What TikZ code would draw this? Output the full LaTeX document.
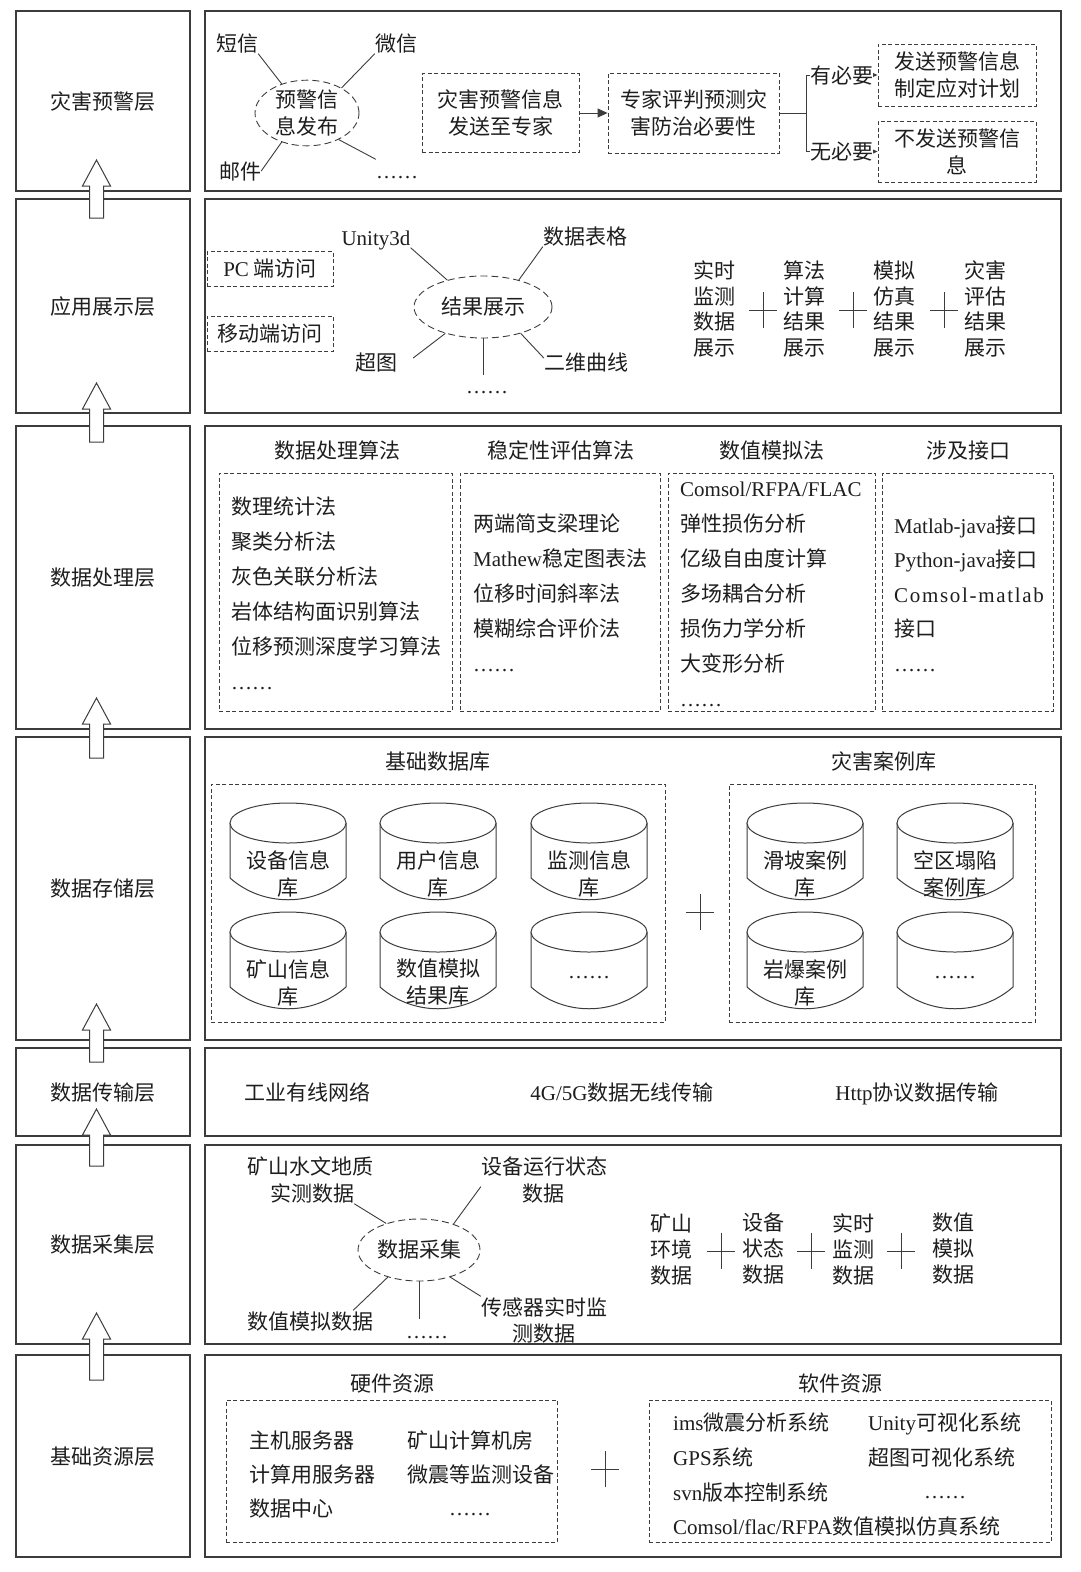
\documentclass[tikz,border=0pt]{standalone}
\usepackage{fontspec}
\setmainfont{Noto Sans CJK SC}
\newfontfamily\latf{Liberation Serif}
\newcommand\latn[1]{{\latf #1}}
\usetikzlibrary{shapes.geometric,arrows.meta}
\definecolor{ln}{HTML}{3C3C3C}
\definecolor{tx}{HTML}{1E1E1E}
\newcommand\layerarrow[2]{%
  \draw[draw=ln, line width=1pt, fill=white] (89.5,#2) -- (89.5,{#1+26}) -- (82.5,{#1+26}) -- (96.5,#1) -- (110.5,{#1+26}) -- (103.5,{#1+26}) -- (103.5,#2) -- cycle;}
\newcommand\plussign[2]{%
  \draw[draw=ln, line width=1pt] ({#1-14},#2) -- ({#1+14},#2) (#1,{#2-18}) -- (#1,{#2+18});}
\newcommand\dbcyl[5]{%
  \draw[draw=ln, line width=1pt, fill=white] ({#1-58},{#2+20}) -- ({#1-58},{#2+75}) .. controls ({#1-25},{#2+104}) and ({#1+25},{#2+104}) .. ({#1+58},{#2+75}) -- ({#1+58},{#2+20});
  \draw[draw=ln, line width=1pt, fill=white] (#1,{#2+20}) ellipse [x radius=58, y radius=20];
  \node[align=center, inner sep=0, text=tx] (#3) at (#1,{#2+#5}) {#4};}
\begin{document}
\begin{tikzpicture}[x=1pt,y=-1pt, font=\fontsize{21}{27}\selectfont,
  lbox/.style={draw=ln, line width=1.3pt, minimum width=174pt, inner sep=0, text=tx, text height=18.5pt, text depth=2.5pt},
  rbox/.style={draw=ln, line width=1.3pt, minimum width=856pt, inner sep=0},
  dbox/.style={draw=ln, line width=0.9pt, dash pattern=on 4pt off 2.5pt, inner sep=0, align=center, text=tx},
  dell/.style={draw=ln, line width=0.9pt, dash pattern=on 7pt off 4pt, ellipse, inner sep=0, align=center, text=tx},
  txt/.style={inner sep=0, text=tx, text height=18.5pt, text depth=2.5pt},
  conn/.style={draw=ln, line width=0.9pt},
  col/.style={align=center, inner sep=0, text=tx, font=\fontsize{21}{25.7}\selectfont},
  col6/.style={align=center, inner sep=0, text=tx, font=\fontsize{21}{26}\selectfont}]
\fill[white] (0,0) rectangle (1080,1572);
\useasboundingbox (0,0) rectangle (1080,1572);

% ---------- layer frames ----------
\node[lbox, minimum height=180pt] (L1) at (103,101) {灾害预警层};
\node[rbox, minimum height=180pt] (R1) at (633,101) {};
\node[lbox, minimum height=214pt] (L2) at (103,306) {应用展示层};
\node[rbox, minimum height=214pt] (R2) at (633,306) {};
\node[lbox, minimum height=303pt] (L3) at (103,577.5) {数据处理层};
\node[rbox, minimum height=303pt] (R3) at (633,577.5) {};
\node[lbox, minimum height=303pt] (L4) at (103,888.5) {数据存储层};
\node[rbox, minimum height=303pt] (R4) at (633,888.5) {};
\node[lbox, minimum height=88pt] (L5) at (103,1092) {数据传输层};
\node[rbox, minimum height=88pt] (R5) at (633,1092) {};
\node[lbox, minimum height=199pt] (L6) at (103,1244.5) {数据采集层};
\node[rbox, minimum height=199pt] (R6) at (633,1244.5) {};
\node[lbox, minimum height=202pt] (L7) at (103,1456) {基础资源层};
\node[rbox, minimum height=202pt] (R7) at (633,1456) {};

\layerarrow{160}{218}
\layerarrow{383}{442}
\layerarrow{698}{758}
\layerarrow{1004}{1062}
\layerarrow{1109}{1166}
\layerarrow{1313}{1380}

% ---------- layer 1 ----------
\node[txt] (sms) at (237,43) {短信};
\node[txt] (wx) at (396,43) {微信};
\node[txt] (mail) at (240,171) {邮件};
\node[txt] (d1) at (397,170) {\latn{……}};
\node[dell, minimum width=104pt, minimum height=62pt] (pub) at (307,113) {预警信\\息发布};
\draw[conn] (sms.south east) -- (pub.131);
\draw[conn] (wx.south west) -- (pub.36);
\draw[conn] (mail.east) -- (pub.229);
\draw[conn] (d1.north west) -- (pub.320);
\node[dbox, minimum width=157pt, minimum height=79pt] (b1) at (500.5,113) {灾害预警信息\\发送至专家};
\node[dbox, minimum width=171pt, minimum height=80pt] (b2) at (693.5,113) {专家评判预测灾\\害防治必要性};
\node[dbox, minimum width=158pt, minimum height=62pt] (b3) at (957,75) {发送预警信息\\制定应对计划};
\node[dbox, minimum width=158pt, minimum height=61pt] (b4) at (957,151.5) {不发送预警信\\息};
\draw[conn, -{Triangle[length=10pt,width=9pt]}] (b1) -- (b2);
\coordinate (br) at (806,113);
\draw[conn] (b2.east) -- (br);
\draw[conn] (br |- b3) -- (br |- b4);
\draw[conn, -{Triangle[length=7pt,width=6pt]}] (br |- b3) -- node[txt, fill=white] (yes) {有必要} (b3.west);
\draw[conn, -{Triangle[length=7pt,width=6pt]}] (br |- b4) -- node[txt, fill=white] (no) {无必要} (b4.west);

% ---------- layer 2 ----------
\node[dbox, minimum width=126pt, minimum height=35pt] (pc) at (270,269) {\latn{PC} 端访问};
\node[dbox, minimum width=126pt, minimum height=35pt] (mob) at (270,333.5) {移动端访问};
\node[dell, minimum width=138pt, minimum height=62pt] (res) at (483,307) {结果展示};
\node[txt] (u3d) at (376,237) {\latn{Unity3d}};
\node[txt] (tab) at (585,236) {数据表格};
\node[txt] (cht) at (376,362) {超图};
\node[txt] (crv) at (586,362) {二维曲线};
\node[txt] (d2) at (487,385) {\latn{……}};
\coordinate (v2) at (483,375);
\draw[conn] (u3d.south east) -- (res.143);
\draw[conn] (tab.south west) -- (res.37);
\draw[conn] ([xshift=16pt,yshift=4pt]cht.east) -- (res.215);
\draw[conn] ([yshift=4pt]crv.west) -- (res.325);
\draw[conn] (res.south) -- (v2);
\node[col] (c21) at (714,309) {实时\\监测\\数据\\展示};
\node[col] (c22) at (804,309) {算法\\计算\\结果\\展示};
\node[col] (c23) at (894,309) {模拟\\仿真\\结果\\展示};
\node[col] (c24) at (985,309) {灾害\\评估\\结果\\展示};
\plussign{763}{310}
\plussign{853}{310}
\plussign{944}{310}

% ---------- layer 3 ----------
\node[txt] (h31) at (337,450) {数据处理算法};
\node[txt] (h32) at (561,450) {稳定性评估算法};
\node[txt] (h33) at (772,450) {数值模拟法};
\node[txt] (h34) at (968,450) {涉及接口};
\node[dbox, minimum width=233pt, minimum height=238pt] (g31) at (335.5,592) {};
\node[dbox, minimum width=200pt, minimum height=238pt] (g32) at (560,592) {};
\node[dbox, minimum width=207pt, minimum height=238pt] (g33) at (771.5,592) {};
\node[dbox, minimum width=171pt, minimum height=238pt] (g34) at (967.5,592) {};
\foreach \t [count=\i from 0] in {数理统计法,聚类分析法,灰色关联分析法,岩体结构面识别算法,位移预测深度学习算法,\latn{……}}
  \node[txt, anchor=west] (pa\i) at (231,{506+35*\i}) {\t};
\foreach \t [count=\i from 0] in {两端简支梁理论,{\latn{Mathew}稳定图表法},位移时间斜率法,模糊综合评价法,\latn{……}}
  \node[txt, anchor=west] (pb\i) at (473,{523+35*\i}) {\t};
\foreach \t [count=\i from 0] in {\latn{Comsol/RFPA/FLAC},弹性损伤分析,亿级自由度计算,多场耦合分析,损伤力学分析,大变形分析,\latn{……}}
  \node[txt, anchor=west] (pc\i) at (680,{488+35*\i}) {\t};
\foreach \t [count=\i from 0] in {{\latn{Matlab-java}接口},{\latn{Python-java}接口},{\latn{\addfontfeature{LetterSpace=8}Comsol-matlab}},接口,\latn{……}}
  \node[txt, anchor=west] (pd\i) at (894,{525+34.5*\i}) {\t};

% ---------- layer 4 ----------
\node[txt] (h41) at (438,761) {基础数据库};
\node[txt] (h42) at (884,761) {灾害案例库};
\node[dbox, minimum width=454pt, minimum height=238pt] (g41) at (438,903) {};
\node[dbox, minimum width=306pt, minimum height=238pt] (g42) at (882,903) {};
\dbcyl{288}{803}{db1}{设备信息\\库}{70.5}
\dbcyl{438}{803}{db2}{用户信息\\库}{70.5}
\dbcyl{589}{803}{db3}{监测信息\\库}{70.5}
\dbcyl{288}{912}{db4}{矿山信息\\库}{70.5}
\dbcyl{438}{912}{db5}{数值模拟\\结果库}{70.5}
\dbcyl{589}{912}{db6}{\latn{……}}{66}
\dbcyl{805}{803}{db7}{滑坡案例\\库}{70.5}
\dbcyl{955}{803}{db8}{空区塌陷\\案例库}{70.5}
\dbcyl{805}{912}{db9}{岩爆案例\\库}{70.5}
\dbcyl{955}{912}{db10}{\latn{……}}{66}
\plussign{700}{912}

% ---------- layer 5 ----------
\node[txt] (t51) at (307,1092) {工业有线网络};
\node[txt] (t52) at (622,1092) {\latn{4G/5G}数据无线传输};
\node[txt] (t53) at (917,1092) {\latn{Http}协议数据传输};

% ---------- layer 6 ----------
\node[txt] (hyd1) at (310,1166) {矿山水文地质};
\node[txt] (hyd2) at (312,1193) {实测数据};
\node[txt] (dev1) at (544,1166) {设备运行状态};
\node[txt] (dev2) at (543,1193) {数据};
\node[dell, minimum width=122pt, minimum height=62pt] (acq) at (419,1250) {数据采集};
\node[txt] (sim) at (310,1321) {数值模拟数据};
\node[txt] (d6) at (427,1330) {\latn{……}};
\node[txt] (sen1) at (544,1307) {传感器实时监};
\node[txt] (sen2) at (544,1333) {测数据};
\coordinate (v6) at (419,1319);
\draw[conn] (hyd2.south east) -- (acq.141);
\draw[conn] ([yshift=-10pt]dev1.south west) -- (acq.37);
\draw[conn] ([xshift=-20pt]sim.north east) -- (acq.221);
\draw[conn] (sen1.north west) -- (acq.319);
\draw[conn] (acq.south) -- (v6);
\node[col6] (c61) at (671,1249) {矿山\\环境\\数据};
\node[col6] (c62) at (763,1249) {设备\\状态\\数据};
\node[col6] (c63) at (853,1249) {实时\\监测\\数据};
\node[col6] (c64) at (953,1249) {数值\\模拟\\数据};
\plussign{721}{1251}
\plussign{811}{1251}
\plussign{901}{1251}

% ---------- layer 7 ----------
\node[txt] (h71) at (392,1383) {硬件资源};
\node[txt] (h72) at (840,1383) {软件资源};
\node[dbox, minimum width=331pt, minimum height=142pt] (g71) at (391.5,1471) {};
\node[dbox, minimum width=402pt, minimum height=142pt] (g72) at (850,1471) {};
\node[txt, anchor=west] (hw1) at (249,1440) {主机服务器};
\node[txt, anchor=west] (hw2) at (249,1474) {计算用服务器};
\node[txt, anchor=west] (hw3) at (249,1508) {数据中心};
\node[txt, anchor=west] (hw4) at (407,1440) {矿山计算机房};
\node[txt, anchor=west] (hw5) at (407,1474) {微震等监测设备};
\node[txt] (hw6) at (470,1507) {\latn{……}};
\plussign{605}{1469}
\node[txt, anchor=west] (sw1) at (673,1422) {\latn{ims}微震分析系统};
\node[txt, anchor=west] (sw2) at (673,1457) {\latn{GPS}系统};
\node[txt, anchor=west] (sw3) at (673,1492) {\latn{svn}版本控制系统};
\node[txt, anchor=west] (sw4) at (673,1526) {\latn{Comsol/flac/RFPA}数值模拟仿真系统};
\node[txt, anchor=west] (sw5) at (868,1422) {\latn{Unity}可视化系统};
\node[txt, anchor=west] (sw6) at (868,1457) {超图可视化系统};
\node[txt] (sw7) at (945,1490) {\latn{……}};
\end{tikzpicture}
\end{document}
